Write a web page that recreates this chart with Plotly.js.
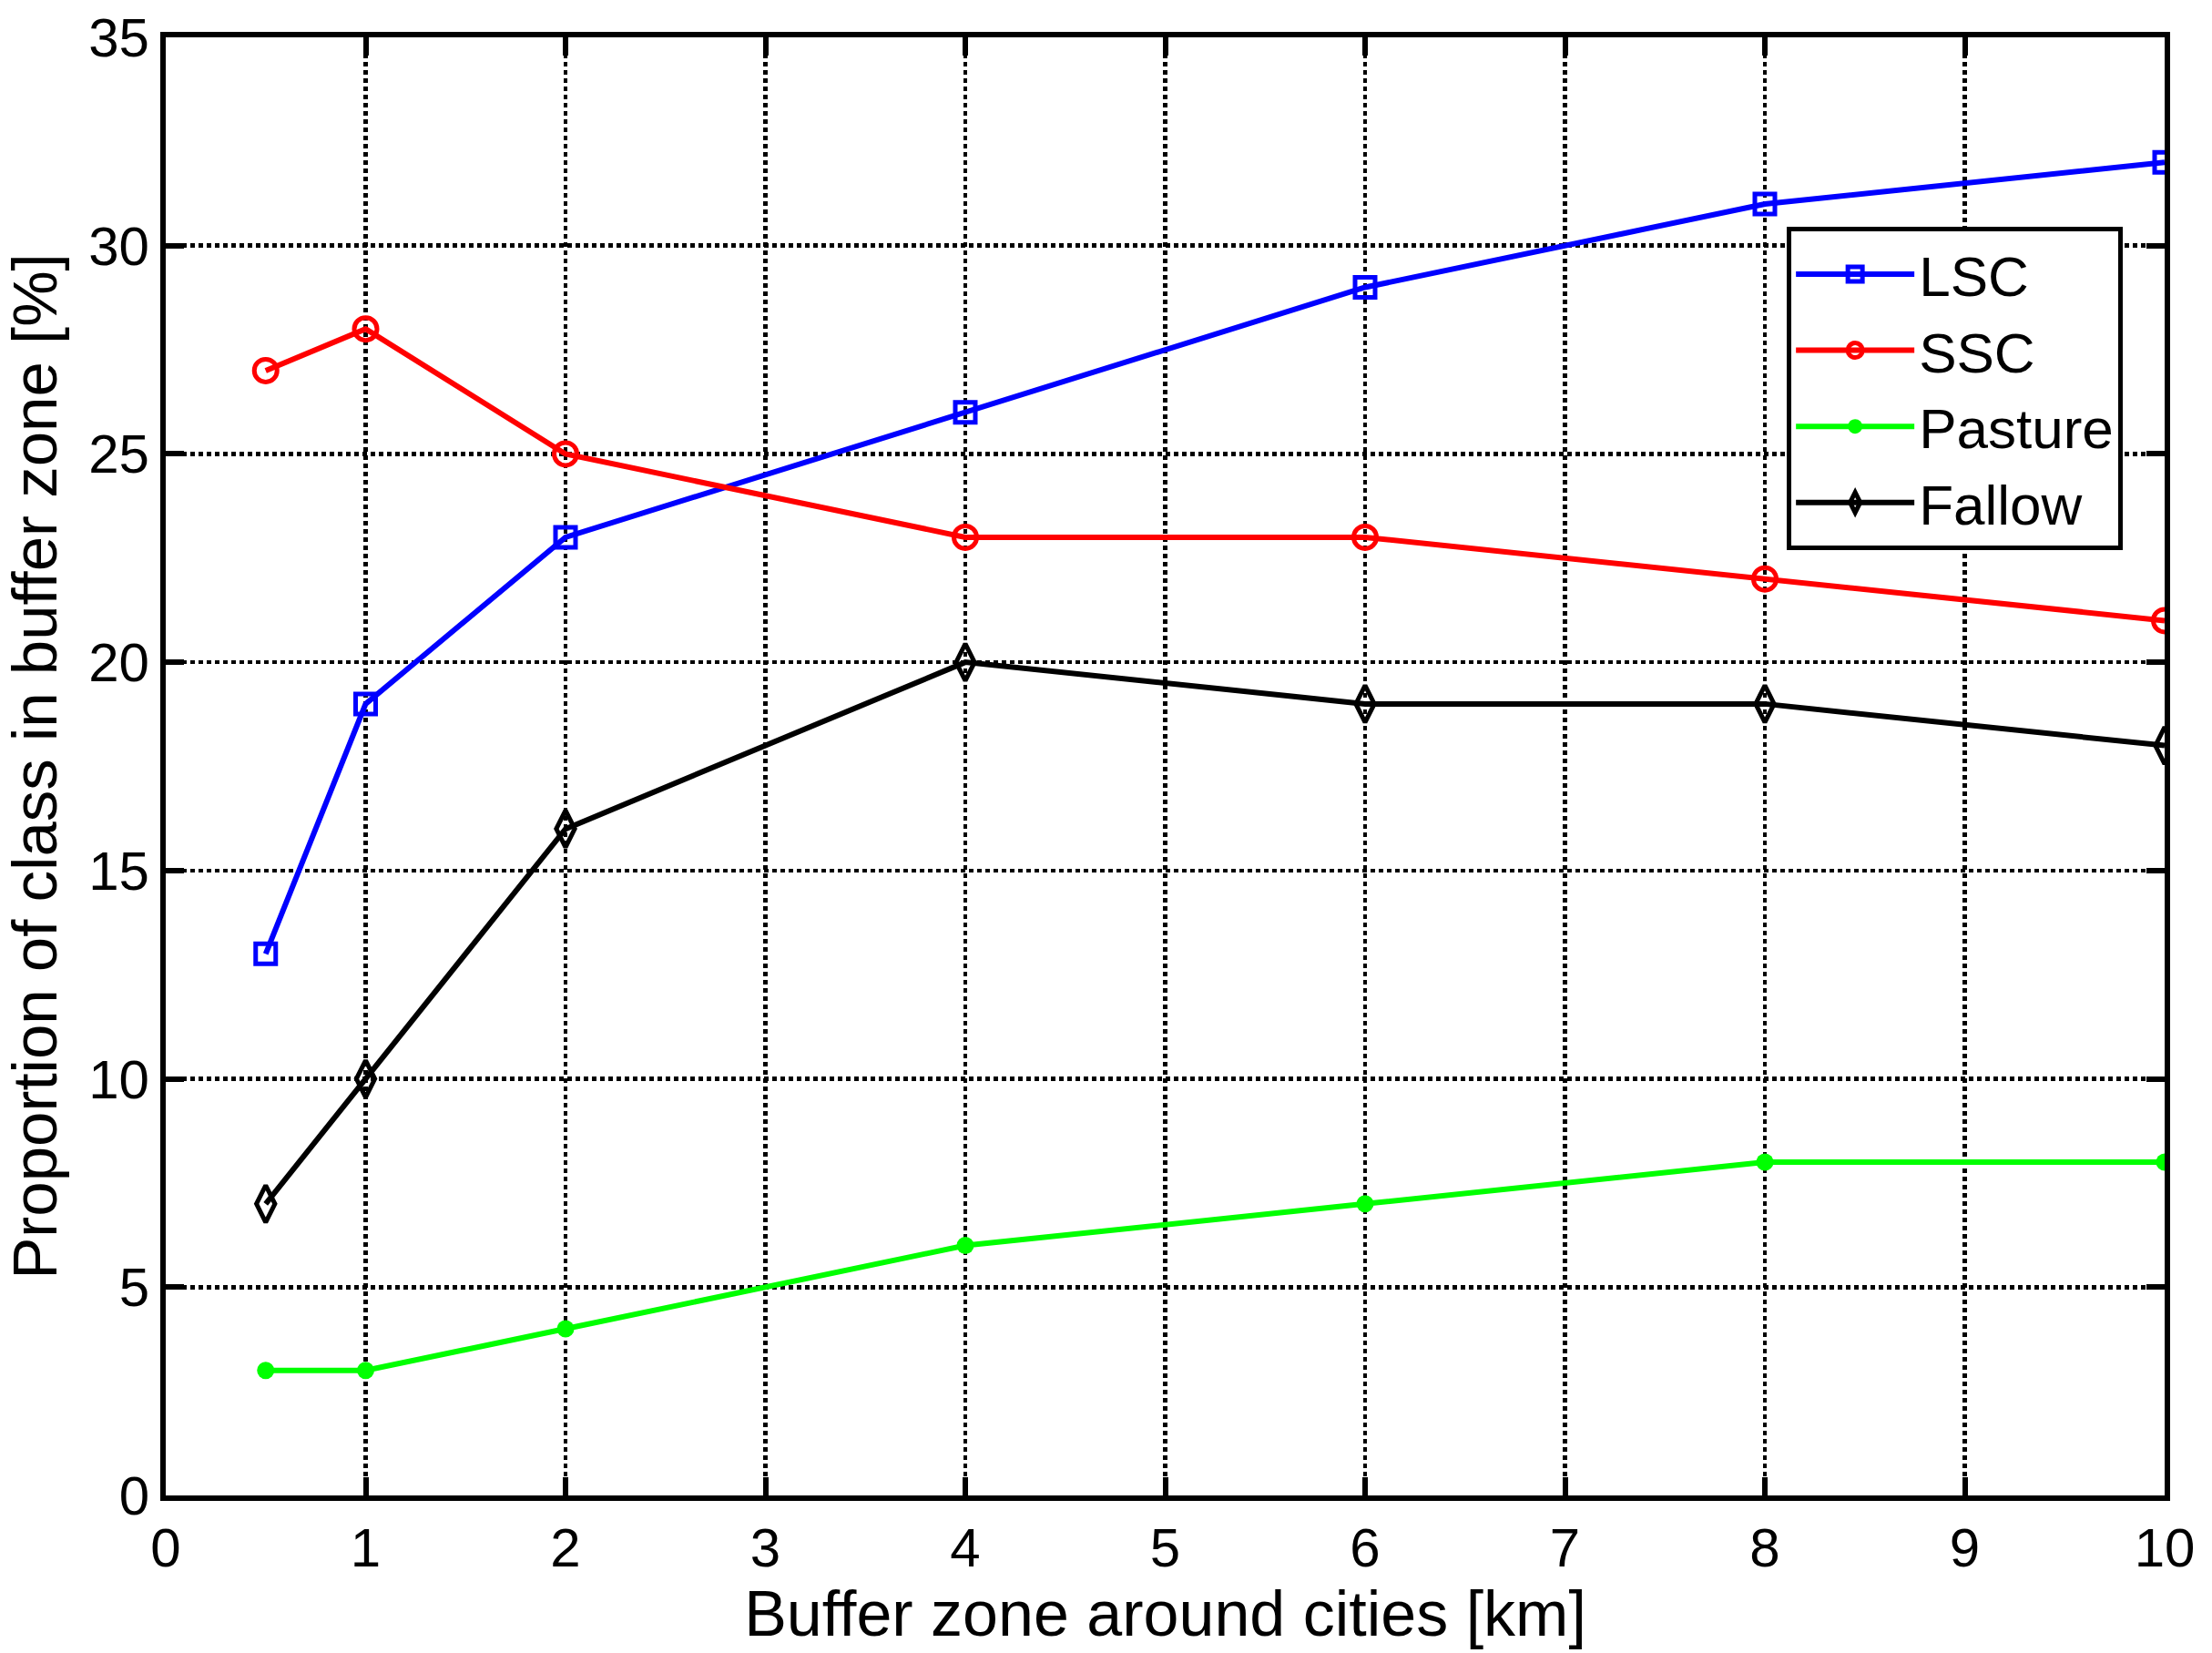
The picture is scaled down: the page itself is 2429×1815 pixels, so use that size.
<!DOCTYPE html>
<html>
<head>
<meta charset="utf-8">
<script src="https://cdn.plot.ly/plotly-3.0.1.min.js"></script>
<style>html,body{margin:0;padding:0;background:#fff;}#chart{width:2429px;height:1815px;}</style>
</head>
<body>
<div id="chart"></div>
<script>
const bufferKm = [0.5, 1, 2, 4, 6, 8, 10];
const lsc = [13, 19, 23, 26, 29, 31, 32];
const ssc = [27, 28, 25, 23, 23, 22, 21];
const pasture = [3, 3, 4, 6, 7, 8, 8];
const fallow = [7, 10, 16, 20, 19, 19, 18];
const seriesNames = ['LSC', 'SSC', 'Pasture', 'Fallow'];
const xTicks = [0,1,2,3,4,5,6,7,8,9,10];
const yTicks = [0,5,10,15,20,25,30,35];

const FONT = 'Liberation Sans, Arial, Helvetica, sans-serif';

function tr(name, y, color, symbol, size, lw) {
  return {
    x: bufferKm, y: y, name: name, type: 'scatter', mode: 'lines+markers',
    line: {color: color, width: 6},
    marker: {symbol: symbol, size: size, color: color, line: {color: color, width: lw}}
  };
}

const data = [
  tr(seriesNames[0], lsc, '#0000ff', 'square-open', 22, 5),
  tr(seriesNames[1], ssc, '#ff0000', 'circle-open', 25, 5),
  tr(seriesNames[2], pasture, '#00ff00', 'circle', 19, 0),
  tr(seriesNames[3], fallow, '#000000', 'diamond-tall-open', 29, 5)
];

const axisCommon = {
  showline: true, linecolor: '#000', linewidth: 6, mirror: 'allticks',
  ticks: 'inside', ticklen: 20, tickwidth: 6, tickcolor: '#000',
  showgrid: true, gridcolor: '#000', gridwidth: 4.5, griddash: '5px,4px',
  zeroline: false, tickfont: {family: FONT, size: 60, color: '#000'}
};

const layout = {
  width: 2429, height: 1815,
  margin: {l: 182, r: 52, t: 41, b: 173},
  paper_bgcolor: '#fff', plot_bgcolor: '#fff',
  font: {family: FONT, color: '#000'},
  showlegend: true,
  legend: {
    x: 0.811, y: 0.870, xanchor: 'left', yanchor: 'top',
    bgcolor: '#fff', bordercolor: '#000', borderwidth: 5,
    font: {family: FONT, size: 62, color: '#000'},
    itemwidth: 130, tracegroupgap: 0
  },
  xaxis: Object.assign({}, axisCommon, {
    range: [0, 10], tickvals: xTicks, ticktext: xTicks.map(String),
    title: {text: 'Buffer zone around cities [km]', font: {family: FONT, size: 70, color: '#000'}, standoff: 6}
  }),
  yaxis: Object.assign({}, axisCommon, {
    range: [0, 35], tickvals: yTicks, ticktext: yTicks.map(String),
    title: {text: 'Proportion of class in buffer zone [%]', font: {family: FONT, size: 69, color: '#000'}, standoff: 30}
  })
};

Plotly.newPlot('chart', data, layout, {staticPlot: true, displayModeBar: false});
</script>
</body>
</html>
